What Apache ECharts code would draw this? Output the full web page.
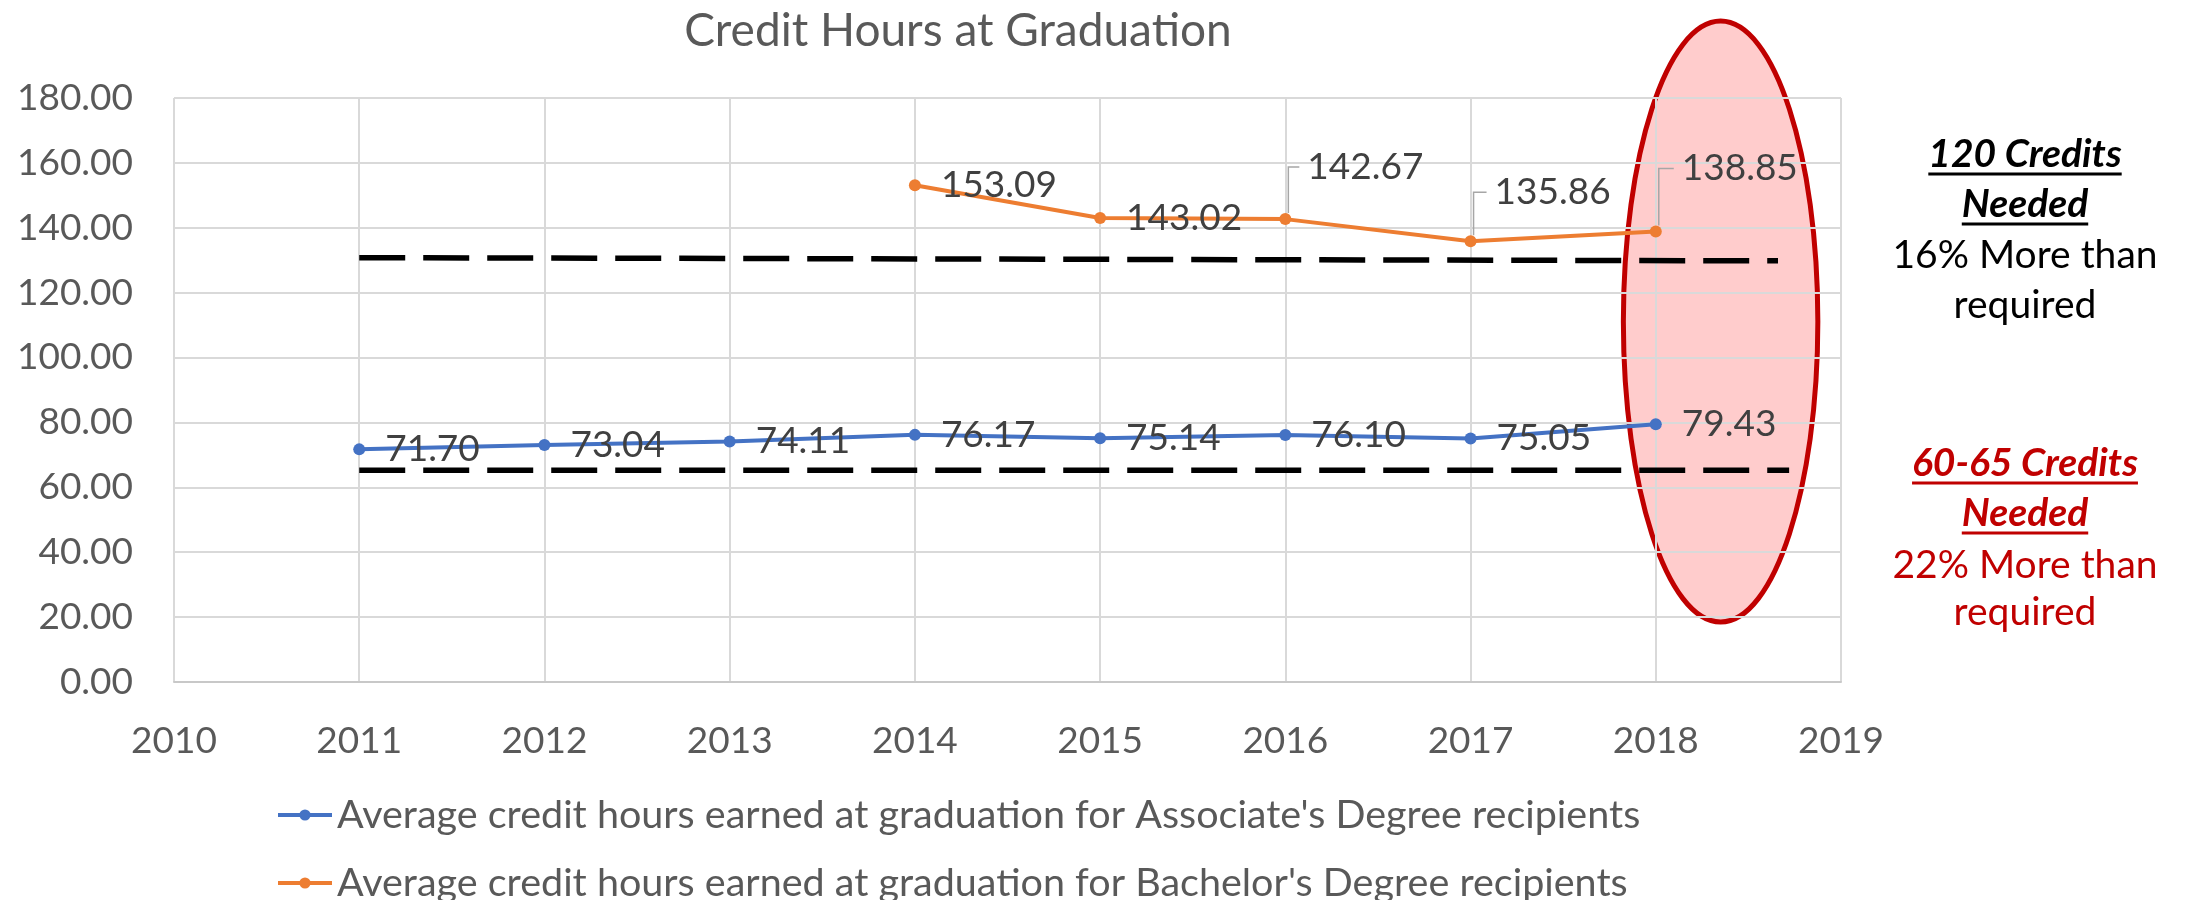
<!DOCTYPE html>
<html><head><meta charset="utf-8">
<script src="https://cdn.jsdelivr.net/npm/echarts@6/dist/echarts.min.js"></script>
<style>html,body{margin:0;padding:0;background:#fff}#c{width:2187px;height:900px}</style>
</head><body><div id="c"></div>
<script>
// ---------- data ----------
const associateYears = [2011, 2012, 2013, 2014, 2015, 2016, 2017, 2018];
const associateValues = [71.70, 73.04, 74.11, 76.17, 75.14, 76.10, 75.05, 79.43];
const bachelorYears = [2014, 2015, 2016, 2017, 2018];
const bachelorValues = [153.09, 143.02, 142.67, 135.86, 138.85];
const associateName = "Average credit hours earned at graduation for Associate's Degree recipients";
const bachelorName = "Average credit hours earned at graduation for Bachelor's Degree recipients";
const titleText = "Credit Hours at Graduation";
const xRange = [2010, 2019];
const yRange = [0, 180];
const yStep = 20;
// reference (dashed) lines, as drawn in the original
const ref120Points = [[2011, 130.8], [2018.66, 129.8]];
const ref60Points = [[2011, 65.3], [2018.72, 65.3]];
const noteBachelor = ["120 Credits", "Needed", "16% More than", "required"];
const noteAssociate = ["60-65 Credits", "Needed", "22% More than", "required"];

// ---------- styling / layout ----------
const FONT = "Lato, 'Open Sans', sans-serif";
const AXIS_GRAY = '#595959';
const LABEL_GRAY = '#404040';
const BLUE = '#4472C4';
const ORANGE = '#ED7D31';
const DARKRED = '#C00000';
const LABEL_SIZE = 37;
const LABEL_DIST = 20;
const SYMBOL_SIZE = 12;
// moved data labels (bachelor series, by data index): [dx, dy]
const bachelorLabelOffsets = {2: [-4, -52], 3: [-2, -49], 4: [0, -63]};
// highlight ellipse in data units
const ellipseCenter = [2018.35, 111.1];
const ellipseRadius = [0.525, 92.6];

const chart = echarts.init(document.getElementById('c'), null, {renderer: 'canvas'});

const toPairs = (xs, ys) => xs.map((x, i) => [x, ys[i]]);
const legendText = {fontFamily: FONT, fontSize: 39.5, color: AXIS_GRAY, lineHeight: 40};
const legendBase = {orient: 'vertical', left: 271, itemWidth: 54, itemHeight: 14, itemGap: 0,
                    lineStyle: {width: 4}, textStyle: legendText};

const option = {
  backgroundColor: '#ffffff',
  animation: false,
  textStyle: {fontFamily: FONT},
  title: {
    text: titleText, left: 953, top: 3, textAlign: 'center',
    textStyle: {fontFamily: FONT, fontSize: 46, fontWeight: 'normal', color: AXIS_GRAY}
  },
  grid: {left: 174, right: 346, top: 98, bottom: 218, containLabel: false},
  xAxis: {
    type: 'value', min: xRange[0], max: xRange[1], interval: 1,
    axisLine: {show: true, lineStyle: {color: '#C8C8C8', width: 2}},
    axisTick: {show: false},
    axisLabel: {fontFamily: FONT, fontSize: LABEL_SIZE, color: AXIS_GRAY, margin: 41, formatter: v => String(v)},
    splitLine: {show: true, lineStyle: {color: '#D9D9D9', width: 2}}
  },
  yAxis: {
    type: 'value', min: yRange[0], max: yRange[1], interval: yStep,
    axisLine: {show: false}, axisTick: {show: false},
    axisLabel: {fontFamily: FONT, fontSize: LABEL_SIZE, color: AXIS_GRAY, margin: 41, formatter: v => v.toFixed(2)},
    splitLine: {show: true, lineStyle: {color: '#D9D9D9', width: 2}}
  },
  legend: [
    Object.assign({}, legendBase, {top: 790, data: [associateName]}),
    Object.assign({}, legendBase, {top: 858, data: [bachelorName]})
  ],
  series: [
    {
      name: associateName, type: 'line', data: toPairs(associateYears, associateValues),
      symbol: 'circle', symbolSize: SYMBOL_SIZE, z: 5,
      lineStyle: {color: BLUE, width: 4}, itemStyle: {color: BLUE},
      label: {show: true, position: 'right', distance: LABEL_DIST, fontFamily: FONT, fontSize: LABEL_SIZE, color: LABEL_GRAY,
              formatter: p => p.value[1].toFixed(2)}
    },
    {
      name: bachelorName, type: 'line', data: toPairs(bachelorYears, bachelorValues),
      symbol: 'circle', symbolSize: SYMBOL_SIZE, z: 5,
      lineStyle: {color: ORANGE, width: 4}, itemStyle: {color: ORANGE},
      label: {show: true, position: 'right', distance: LABEL_DIST, fontFamily: FONT, fontSize: LABEL_SIZE, color: LABEL_GRAY,
              formatter: p => p.value[1].toFixed(2)},
      labelLayout: p => {
        const o = bachelorLabelOffsets[p.dataIndex];
        return o ? {dx: o[0], dy: o[1]} : {};
      }
    },
    {
      type: 'custom', silent: true, z: 4,
      data: Object.keys(bachelorLabelOffsets).map(k => [bachelorYears[+k], bachelorValues[+k], +k]),
      encode: {x: 0, y: 1},
      renderItem: (params, api) => {
        const pt = api.coord([api.value(0), api.value(1)]);
        const off = bachelorLabelOffsets[api.value(2)];
        const ly = pt[1] + off[1];
        const lx = pt[0] + SYMBOL_SIZE / 2 + LABEL_DIST + off[0] - 8;
        return {
          type: 'polyline',
          shape: {points: [[pt[0] + 3, pt[1] - 6], [pt[0] + 3, ly], [lx, ly]]},
          style: {stroke: '#A6A6A6', lineWidth: 1.5, fill: null}
        };
      }
    },
    {
      type: 'line', data: ref120Points, symbol: 'none', silent: true, z: 3,
      lineStyle: {color: '#000000', width: 5.5, type: [46, 18]}
    },
    {
      type: 'line', data: ref60Points, symbol: 'none', silent: true, z: 3,
      lineStyle: {color: '#000000', width: 5.5, type: [46, 18]}
    }
  ]
};
chart.setOption(option);

// ---------- annotations ----------
const ctx = document.createElement('canvas').getContext('2d');
function textWidth(str, font) { ctx.font = font; return ctx.measureText(str).width; }

const c = chart.convertToPixel({gridIndex: 0}, ellipseCenter);
const e = chart.convertToPixel({gridIndex: 0}, [ellipseCenter[0] + ellipseRadius[0], ellipseCenter[1] + ellipseRadius[1]]);
const rx = Math.abs(e[0] - c[0]), ry = Math.abs(c[1] - e[1]);

const NOTE_X = 2025;
const NOTE_SIZE = 39;
const graphics = [{
  type: 'ellipse', z: -10, silent: true,
  shape: {cx: c[0], cy: c[1], rx: rx, ry: ry},
  style: {fill: '#FFCCCC', stroke: DARKRED, lineWidth: 5}
}];
function addNote(lines, ys, color) {
  lines.forEach((t, i) => {
    const emph = i < 2;
    const font = (emph ? 'italic bold ' : '') + NOTE_SIZE + 'px ' + FONT;
    graphics.push({
      type: 'text', z: 20, silent: true,
      style: {text: t, x: NOTE_X, y: ys[i], align: 'center', verticalAlign: 'middle',
              fill: color, fontFamily: FONT, fontSize: NOTE_SIZE,
              fontWeight: emph ? 'bold' : 'normal', fontStyle: emph ? 'italic' : 'normal'}
    });
    if (emph) {
      const w = textWidth(t, font);
      graphics.push({
        type: 'line', z: 20, silent: true,
        shape: {x1: NOTE_X - w / 2, y1: ys[i] + 20, x2: NOTE_X + w / 2, y2: ys[i] + 20},
        style: {stroke: color, lineWidth: 3}
      });
    }
  });
}
addNote(noteBachelor, [154, 204, 255, 305], '#000000');
addNote(noteAssociate, [463, 513, 565, 612], DARKRED);
chart.setOption({graphic: graphics});
</script>
</body></html>
